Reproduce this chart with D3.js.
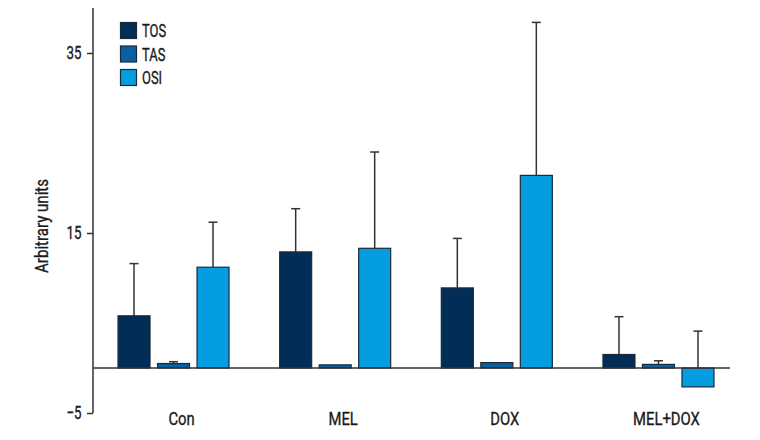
<!DOCTYPE html>
<html><head><meta charset="utf-8">
<script src="https://cdn.jsdelivr.net/npm/d3@7"></script>
<style>
body{margin:0;background:#fff;}
text{font-family:Roboto,"Liberation Sans",sans-serif;fill:#1a1a1a;stroke:#1a1a1a;stroke-width:0.35px;}
</style></head><body>
<svg id="chart" width="760" height="440"></svg>
<script>
const categories = ["Con", "MEL", "DOX", "MEL+DOX"];
const seriesNames = ["TOS", "TAS", "OSI"];
const tosValues = [5.8, 12.9, 8.9, 1.5];
const tosErrors = [5.8, 4.8, 5.5, 4.2];
const tasValues = [0.5, 0.35, 0.6, 0.4];
const tasErrors = [0.2, 0, 0, 0.4];
const osiValues = [11.2, 13.3, 21.4, -2.1];
const osiErrors = [5.0, 10.7, 17.0, 6.2];
const yTicks = [35, 15, -5];
const colors = ["#022d57", "#0b60a1", "#039de0"];

const values = [tosValues, tasValues, osiValues];
const errors = [tosErrors, tasErrors, osiErrors];

const svg = d3.select("#chart");
const y = d3.scaleLinear().domain([-5, 35]).range([413, 53]);
const x0 = d3.scaleBand().domain(categories).range([92.7, 739.3]).padding(0);
const x1 = d3.scaleBand().domain(seriesNames).range([-55.5, 55.5]).paddingInner(0.19);

const rows = [];
categories.forEach((c, i) => seriesNames.forEach((s, j) => {
  rows.push({cat: c, ser: s, v: values[j][i], e: errors[j][i], color: colors[j]});
}));
const cx = d => x0(d.cat) + x0.bandwidth() / 2;

// condensed text helper
function ctext(g, x, yy, str, size, k, anchor, rot) {
  return g.append("text")
    .attr("transform", `translate(${x},${yy})` + (rot ? ` rotate(${rot})` : "") + ` scale(${k},1)`)
    .attr("text-anchor", anchor).attr("font-size", size).text(str);
}

// error bars (drawn first, bars cover part)
const eb = svg.append("g").attr("stroke", "#333").attr("stroke-width", 1.5);
rows.filter(d => d.e > 0).forEach(d => {
  const xc = cx(d) + x1(d.ser) + x1.bandwidth() / 2;
  eb.append("line").attr("x1", xc).attr("x2", xc).attr("y1", y(d.v)).attr("y2", y(d.v + d.e));
  eb.append("line").attr("x1", xc - 4.5).attr("x2", xc + 4.5).attr("y1", y(d.v + d.e)).attr("y2", y(d.v + d.e));
});

// bars
svg.append("g").selectAll("rect").data(rows).join("rect")
  .attr("x", d => cx(d) + x1(d.ser))
  .attr("width", x1.bandwidth())
  .attr("y", d => y(Math.max(0, d.v)))
  .attr("height", d => Math.abs(y(d.v) - y(0)))
  .attr("fill", d => d.color)
  .attr("stroke", "#1c2a38").attr("stroke-width", 1.2);

// zero line
svg.append("line").attr("x1", 93).attr("x2", 730).attr("y1", y(0)).attr("y2", y(0))
  .attr("stroke", "#333").attr("stroke-width", 1.5);

// y axis
const kT = 0.72;
const yAxis = d3.axisLeft(y).tickValues(yTicks).tickSize(6).tickPadding(5)
  .tickFormat(d => d < 0 ? "\u2212" + Math.abs(d) : d);
const ga = svg.append("g").attr("transform", "translate(93,0)").call(yAxis);
ga.attr("font-family", null).attr("font-size", null);
ga.select(".domain").remove();
ga.selectAll(".tick line").attr("stroke", "#333").attr("stroke-width", 1.5);
ga.selectAll(".tick text").attr("font-size", 18.5).attr("fill", "#1a1a1a")
  .attr("x", -11.5 / kT).attr("transform", `scale(${kT},1)`);
svg.append("line").attr("x1", 93).attr("x2", 93).attr("y1", 8).attr("y2", 413)
  .attr("stroke", "#333").attr("stroke-width", 1.5);

// y label
ctext(svg, 48, 226, "Arbitrary units", 17.5, 0.86, "middle", -90);

// category labels
const gc = svg.append("g");
categories.forEach(c => ctext(gc, x0(c) + x0.bandwidth() / 2 + 8, 425, c, 18.5, 0.8, "middle"));

// legend
const lg = svg.append("g");
seriesNames.forEach((s, i) => {
  const yy = 22.5 + i * 23.5;
  lg.append("rect").attr("x", 120.5).attr("y", yy).attr("width", 16).attr("height", 16)
    .attr("fill", colors[i]).attr("stroke", "#1c2a38").attr("stroke-width", 1.2);
  ctext(lg, 142, yy + 14.5, s, 18.5, 0.7, "start");
});
</script></body></html>
